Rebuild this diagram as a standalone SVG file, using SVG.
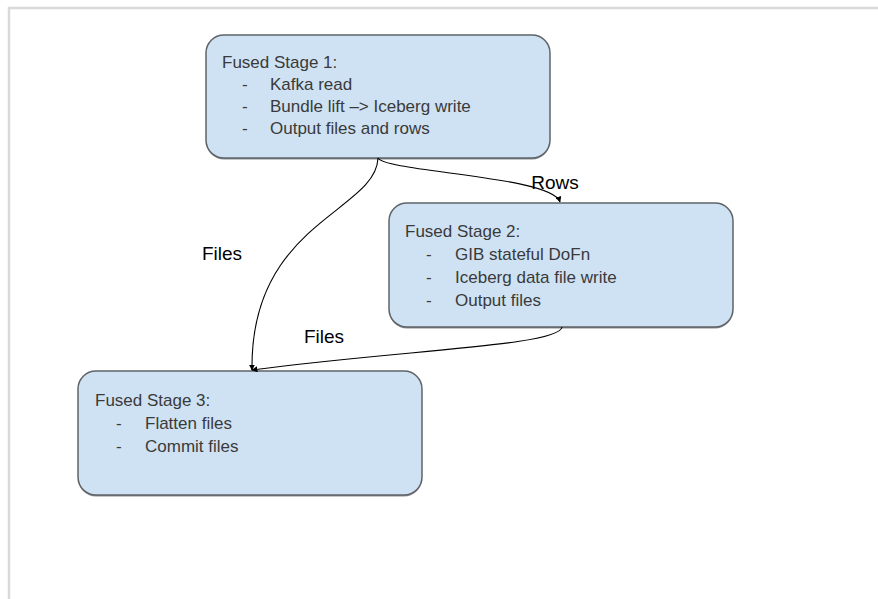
<svg xmlns="http://www.w3.org/2000/svg" width="878" height="599" viewBox="0 0 878 599">
<defs>
<marker id="arr" viewBox="0 0 10 10" refX="9" refY="5" markerWidth="6" markerHeight="6" orient="auto-start-reverse" markerUnits="userSpaceOnUse">
<path d="M0,0 L10,5 L0,10 z" fill="#000"/>
</marker>
</defs>
<style>
.box{fill:#cfe2f3;stroke:#5f6368;stroke-width:1.5}
.shadow{fill:#8a8f96}
.t{font-family:"Liberation Sans",Arial,sans-serif;font-size:17px;fill:#3a3a3a}
.lbl{font-family:"Liberation Sans",Arial,sans-serif;font-size:19px;fill:#000}
.c{fill:none;stroke:#000;stroke-width:1.1}
</style>
<rect x="0" y="0" width="878" height="599" fill="#fff"/>
<path d="M9,599 L9,8 L878,8" fill="none" stroke="#d9d9d9" stroke-width="2.5"/>
<g id="stage1">
<rect class="shadow" x="206" y="36.5" width="344" height="123" rx="18"/>
<rect class="box" x="206" y="35" width="344" height="123" rx="18"/>
<text class="t" x="222" y="68">Fused Stage 1:</text>
<text class="t" x="242" y="90">-</text><text class="t" x="270" y="90">Kafka read</text>
<text class="t" x="242" y="112">-</text><text class="t" x="270" y="112">Bundle lift –&gt; Iceberg write</text>
<text class="t" x="242" y="134">-</text><text class="t" x="270" y="134">Output files and rows</text>
</g>
<g id="stage2">
<rect class="shadow" x="389" y="204.5" width="344" height="124" rx="18"/>
<rect class="box" x="389" y="203" width="344" height="124" rx="18"/>
<text class="t" x="405" y="237">Fused Stage 2:</text>
<text class="t" x="426" y="260">-</text><text class="t" x="455" y="260">GIB stateful DoFn</text>
<text class="t" x="426" y="283">-</text><text class="t" x="455" y="283">Iceberg data file write</text>
<text class="t" x="426" y="306">-</text><text class="t" x="455" y="306">Output files</text>
</g>
<g id="stage3">
<rect class="shadow" x="78" y="372.5" width="344" height="124" rx="18"/>
<rect class="box" x="78" y="371" width="344" height="124" rx="18"/>
<text class="t" x="95" y="406">Fused Stage 3:</text>
<text class="t" x="116" y="429">-</text><text class="t" x="145" y="429">Flatten files</text>
<text class="t" x="116" y="452">-</text><text class="t" x="145" y="452">Commit files</text>
</g>
<g id="connectors">
<path class="c" d="M378,158 C385,172 552,176 560,202" marker-end="url(#arr)"/>
<path class="c" d="M378,158 C376,212 250,222 252,370" marker-end="url(#arr)"/>
<path class="c" d="M562,327 C560,346 400,350 252,370" marker-end="url(#arr)"/>
<text class="lbl" x="555" y="189" text-anchor="middle">Rows</text>
<text class="lbl" x="222" y="260" text-anchor="middle">Files</text>
<text class="lbl" x="324" y="343" text-anchor="middle">Files</text>
</g>
</svg>
